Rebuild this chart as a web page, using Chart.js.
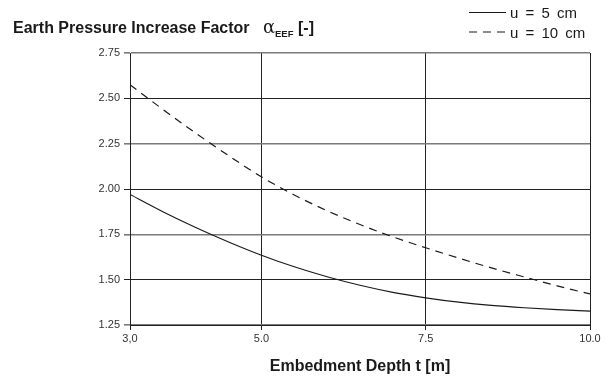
<!DOCTYPE html>
<html>
<head>
<meta charset="utf-8">
<script src="https://cdn.jsdelivr.net/npm/chart.js@4"></script>
<style>
  body { margin: 0; background: #fff; }
  #wrap { position: relative; width: 607px; height: 376px; }
</style>
</head>
<body>
<div id="wrap"><canvas id="chart" width="607" height="376"></canvas></div>
<script>
const depth = [3, 3.5, 4, 4.5, 5, 5.5, 6, 6.5, 7, 7.5, 8, 8.5, 9, 9.5, 10];
const u5 = [1.97, 1.875, 1.788, 1.708, 1.635, 1.571, 1.516, 1.469, 1.43, 1.40, 1.376, 1.358, 1.345, 1.335, 1.327];
const u10 = [2.575, 2.439, 2.308, 2.184, 2.067, 1.967, 1.88, 1.804, 1.736, 1.676, 1.619, 1.565, 1.515, 1.466, 1.421];
const seriesLabels = ['u = 5 cm', 'u = 10 cm'];
const xTicks = [3, 5, 7.5, 10];
const xTickLabels = ['3,0', '5.0', '7.5', '10.0'];
const yTicks = [1.25, 1.5, 1.75, 2.0, 2.25, 2.5, 2.75];
const yTickLabels = ['1.25', '1.50', '1.75', '2.00', '2.25', '2.50', '2.75'];

const FONT = '"Liberation Sans", Arial, Helvetica, sans-serif';
const INK = '#1a1a1a';

function points(ys) {
    return depth.map((x, i) => ({ x: x, y: ys[i] }));
}

// title with subscript and the small legend in the top right corner
const headerPlugin = {
    id: 'header',
    afterDraw(chart) {
        const ctx = chart.ctx;
        ctx.save();
        ctx.fillStyle = INK;
        ctx.textBaseline = 'alphabetic';
        ctx.font = 'bold 16px ' + FONT;
        ctx.fillText('Earth Pressure Increase Factor', 13, 33);
        ctx.font = '18px "DejaVu Serif", serif';
        ctx.fillText('α', 263, 33);
        ctx.font = 'bold 9.5px ' + FONT;
        ctx.fillText('EEF', 275, 37);
        ctx.font = 'bold 16px ' + FONT;
        ctx.fillText('[-]', 298, 33);

        ctx.font = '15px ' + FONT;
        if ('wordSpacing' in ctx) ctx.wordSpacing = '3px';
        chart.data.datasets.forEach((ds, i) => {
            const y = 12.5 + i * 19.5;
            ctx.beginPath();
            ctx.lineWidth = 1.2;
            ctx.strokeStyle = ds.borderColor;
            ctx.setLineDash(ds.borderDash || []);
            ctx.moveTo(469, y);
            ctx.lineTo(506, y);
            ctx.stroke();
            ctx.fillText(ds.label, 510, y + 5.5);
        });
        ctx.restore();
    }
};

new Chart(document.getElementById('chart'), {
    type: 'line',
    data: {
        datasets: [
            {
                label: seriesLabels[0],
                data: points(u5),
                borderColor: INK,
                borderWidth: 1.2,
                pointRadius: 0,
                cubicInterpolationMode: 'monotone'
            },
            {
                label: seriesLabels[1],
                data: points(u10),
                borderColor: INK,
                borderWidth: 1.2,
                borderDash: [8, 6],
                pointRadius: 0,
                cubicInterpolationMode: 'monotone'
            }
        ]
    },
    options: {
        responsive: false,
        devicePixelRatio: 1,
        animation: false,
        layout: {
            padding: { left: 0, right: 17, top: 53, bottom: 0 }
        },
        plugins: {
            legend: { display: false },
            tooltip: { enabled: false }
        },
        scales: {
            x: {
                type: 'linear',
                min: 3,
                max: 10,
                afterBuildTicks: (scale) => {
                    scale.ticks = xTicks.map(v => ({ value: v }));
                },
                afterFit: (scale) => { scale.height = 51; },
                grid: { color: '#222', lineWidth: 1, tickLength: 5 },
                border: { color: '#222', width: 1 },
                ticks: {
                    autoSkip: false,
                    maxRotation: 0,
                    padding: 2,
                    color: '#333',
                    font: { family: FONT, size: 11 },
                    callback: (v, i) => xTickLabels[i]
                },
                title: {
                    display: true,
                    text: 'Embedment Depth t [m]',
                    color: INK,
                    font: { family: FONT, size: 16, weight: 'bold', lineHeight: 1.2 },
                    padding: { top: 0, bottom: 0 }
                }
            },
            y: {
                min: 1.25,
                max: 2.75,
                afterBuildTicks: (scale) => {
                    scale.ticks = yTicks.map(v => ({ value: v }));
                },
                afterFit: (scale) => { scale.width = 130; },
                grid: {
                    color: (c) => (Math.round(c.tick.value * 4) % 2 ? '#7a7a7a' : '#222'),
                    lineWidth: (c) => (Math.round(c.tick.value * 4) % 2 ? 1.6 : 1),
                    tickLength: 6
                },
                border: { color: '#222', width: 1 },
                ticks: {
                    padding: 4,
                    color: '#333',
                    font: { family: FONT, size: 11 },
                    callback: (v, i) => yTickLabels[i]
                }
            }
        }
    },
    plugins: [headerPlugin]
});
</script>
</body>
</html>
